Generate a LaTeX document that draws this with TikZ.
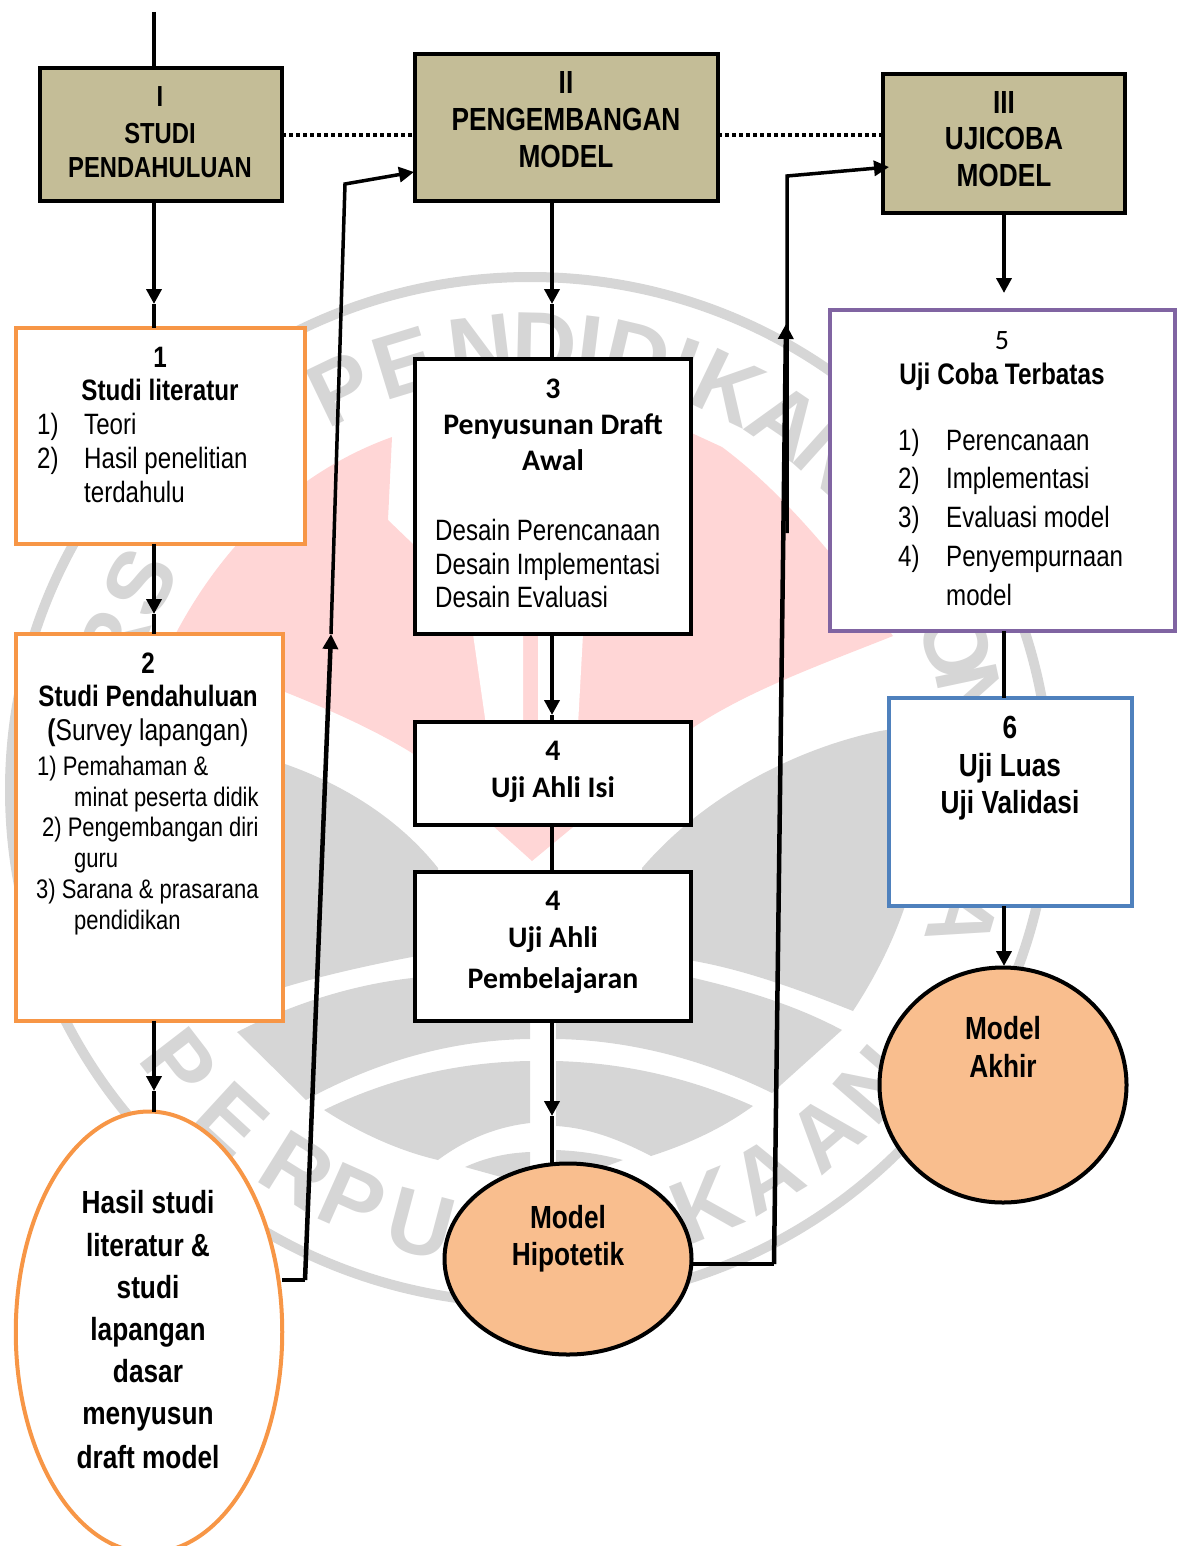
\documentclass[tikz,border=0pt]{standalone}
\usepackage{fontspec}
\setmainfont{Liberation Sans}
\newfontfamily\nrw[FakeStretch=.82]{Liberation Sans}
\newfontfamily\clb{Carlito}
\usetikzlibrary{arrows.meta,shapes.geometric}
\definecolor{krem}{HTML}{C4BD97}
\definecolor{oranye}{HTML}{F79646}
\definecolor{ungu}{HTML}{8064A2}
\definecolor{biru}{HTML}{4F81BD}
\definecolor{persik}{HTML}{F9BE8E}
\definecolor{wmabu}{HTML}{D6D6D6}
\definecolor{wmerah}{HTML}{FFD6D6}
\tikzset{
	kepala/.style={draw=black,fill=krem,line width=4.5pt,inner sep=0pt,outer sep=0pt},
	kotak/.style={draw=#1,fill=white,line width=4pt,inner sep=0pt,outer sep=0pt},
	bulat/.style={ellipse,draw=black,fill=persik,line width=4pt,inner sep=0pt,outer sep=0pt},
	tb/.style={font=\nrw\bfseries\fontsize{#1}{#1}\selectfont,inner sep=0pt,anchor=base},
	tr/.style={font=\nrw\fontsize{#1}{#1}\selectfont,inner sep=0pt,anchor=base west},
	tc/.style={font=\clb\bfseries\fontsize{#1}{#1}\selectfont,inner sep=0pt,anchor=base},
	wmhuruf/.style={font=\bfseries\fontsize{90}{90}\selectfont,text=wmabu,inner sep=0pt},
	garis/.style={line width=4.5pt,line cap=butt},
	panah/.style={garis,-{Triangle[width=15pt,length=15pt]}},
	panahs/.style={line width=3.5pt,-{Triangle[width=15pt,length=15pt]}},
	titik/.style={line width=4pt,dash pattern=on 3.5pt off 3.5pt}
}
\begin{document}
\begin{tikzpicture}[x=1pt,y=-1pt]
	\useasboundingbox (0,0) rectangle (1184,1546);
	% watermark
	\draw[wmabu,line width=10pt] (530,790) ellipse[x radius=520pt,y radius=513pt];
	\fill[wmerah] (392,437) .. controls (300,470) and (225,540) .. (175,635) -- (285,692)
		.. controls (330,710) and (375,730) .. (412,753) -- (532,861) -- (694,727)
		.. controls (750,690) and (820,665) .. (893,636)
		.. controls (840,560) and (780,490) .. (722,447) -- (620,400) -- (414,545) -- (388,520) -- cycle;
	\fill[white] (473,634) -- (523,634) -- (523,725) -- (486,725) -- cycle;
	\fill[white] (538,634) -- (583,634) -- (578,725) -- (538,725) -- cycle;
	\fill[wmabu] (230,730) -- (285,764) .. controls (345,785) and (400,820) .. (438,868) -- (438,952)
		-- (412,957) .. controls (370,965) and (325,975) .. (285,987) -- (230,987) -- cycle;
	\fill[wmabu] (642,868) .. controls (700,800) and (790,750) .. (880,731) -- (950,720) -- (905,906)
		.. controls (890,950) and (870,985) .. (853,1011) .. controls (800,990) and (745,970) .. (694,961) -- (642,950) -- cycle;
	\fill[wmabu] (237,1032) .. controls (290,1005) and (350,985) .. (412,978) -- (530,965) -- (530,1039)
		.. controls (445,1040) and (370,1065) .. (306,1100) -- cycle;
	\fill[wmabu] (556,965) -- (694,978) .. controls (745,990) and (795,1005) .. (842,1030) -- (772,1093)
		.. controls (705,1060) and (630,1040) .. (556,1039) -- cycle;
	\fill[wmabu] (324,1110) .. controls (385,1080) and (455,1062) .. (530,1061) -- (530,1123)
		.. controls (495,1127) and (465,1140) .. (438,1160) .. controls (395,1150) and (355,1130) .. (324,1110) -- cycle;
	\fill[wmabu] (556,1061) .. controls (630,1063) and (695,1080) .. (753,1106) .. controls (720,1130) and (685,1145) .. (651,1156)
		.. controls (620,1140) and (590,1128) .. (556,1126) -- cycle;
	\fill[wmabu] (465,1167) .. controls (485,1158) and (505,1153) .. (530,1152) -- (530,1185) -- cycle;
	\fill[wmabu] (556,1150) .. controls (580,1151) and (600,1154) .. (623,1160) -- (556,1185) -- cycle;
	\foreach \a/\c in {115.7/P,107/E,97/N,88.7/D,83/I,76.7/D,70.6/I,64.3/K,55.8/A,48/N,152.3/S,161/R,19.2/O,12/N,-16.5/A}{
		\node[wmhuruf,rotate=\a-90] (wa\a) at ({535+446*cos(\a)},{790-446*sin(\a)}) {\c};
	}
	\foreach \a/\c in {217.6/P,227.4/E,238/R,246/P,255.2/U,292.4/K,301/A,310.3/A,319/N}{
		\node[wmhuruf,rotate=\a+90] (wb\a) at ({535+449*cos(\a)},{790-449*sin(\a)}) {\c};
	}
	% kotak
	\node[kepala,minimum width=242pt,minimum height=133pt] (I) at (161,134.5) {};
	\node[kepala,minimum width=303pt,minimum height=147pt] (II) at (566.5,127.5) {};
	\node[kepala,minimum width=242pt,minimum height=139pt] (III) at (1004,143.5) {};
	\node[kotak=oranye,minimum width=289pt,minimum height=216pt] (b1) at (160,435.75) {};
	\node[kotak=oranye,minimum width=267pt,minimum height=387pt] (b2) at (149,827) {};
	\node[kotak=black,minimum width=276.5pt,minimum height=275pt] (b3) at (553,496) {};
	\node[kotak=black,minimum width=276.5pt,minimum height=103pt] (b4) at (553,773) {};
	\node[kotak=black,minimum width=276.5pt,minimum height=149pt] (b4p) at (553,946) {};
	\node[kotak=ungu,minimum width=345pt,minimum height=320.5pt] (b5) at (1002,470.5) {};
	\node[kotak=biru,minimum width=242.5pt,minimum height=207.5pt] (b6) at (1010.5,802) {};
	\node[kotak=oranye,ellipse,minimum width=266.5pt,minimum height=441pt] (hasil) at (149,1332) {};
	\node[bulat,minimum width=247pt,minimum height=191pt] (hipo) at (568,1259) {};
	\node[bulat,minimum width=247pt,minimum height=235pt] (akhir) at (1003,1085) {};
	% garis
	\coordinate (atas) at (154,12);
	\coordinate (m1) at (154,304);
	\coordinate (m2) at (154,614);
	\coordinate (m3) at (154,1091);
	\coordinate (m4) at (552,304);
	\coordinate (m5) at (552,715);
	\coordinate (m6) at (552,1116);
	\coordinate (m7) at (1004,293);
	\coordinate (m8) at (1004,966);
	\draw[garis] (atas) -- (atas |- I.north);
	\draw[panah] (m1 |- I.south) -- (m1);
	\draw[garis] (m1) -- (m1 |- b1.north);
	\draw[panah] (m2 |- b1.south) -- (m2);
	\draw[garis] (m2) -- (m2 |- b2.north);
	\draw[panah] (m3 |- b2.south) -- (m3);
	\draw[garis] (m3) -- (m3 |- hasil.north);
	\draw[panah] (m4 |- II.south) -- (m4);
	\draw[garis] (m4) -- (m4 |- b3.north);
	\draw[panah] (m5 |- b3.south) -- (m5);
	\draw[garis] (m5) -- (m5 |- b4.north);
	\draw[garis] (m5 |- b4.south) -- (m5 |- b4p.north);
	\draw[panah] (m6 |- b4p.south) -- (m6);
	\draw[garis] (m6) -- (m6 |- hipo.north);
	\draw[panah] (m7 |- III.south) -- (m7);
	\draw[garis] (m7 |- b5.south) -- (m7 |- b6.north);
	\draw[panah] (m8 |- b6.south) -- (m8);
	\coordinate (t1) at (283,135);
	\draw[titik] (t1 -| I.east) -- (t1 -| II.west);
	\draw[titik] (t1 -| II.east) -- (t1 -| III.west);
	% panah samping
	\coordinate (s1) at (305,1280);
	\coordinate (s2) at (331,634);
	\coordinate (s3) at (345,184);
	\coordinate (s4) at (414,172);
	\draw[line width=3.5pt] (hasil.east |- s1) -- (s1);
	\draw[panah] (s1) -- (s2);
	\draw[panahs] (s2) -- (s3) -- (s4);
	\coordinate (u1) at (774,1264);
	\coordinate (u2) at (786,324);
	\coordinate (u3) at (787,176);
	\coordinate (u4) at (889,167);
	\coordinate (u5) at (787,533);
	\draw[line width=3.5pt] (hipo.east |- u1) -- (u1);
	\draw[panah] (u1) -- (u2);
	\draw[panahs] (u5) -- (u3) -- (u4);
	% teks
	\node[tb=29] (ti1) at (160,107) {I};
	\node[tb=29] (ti2) at (160,144) {STUDI};
	\node[tb=29] (ti3) at (160,178) {PENDAHULUAN};
	\node[tb=32] (tii1) at (566,94) {II};
	\node[tb=32] (tii2) at (566,131) {PENGEMBANGAN};
	\node[tb=32] (tii3) at (566,168) {MODEL};
	\node[tb=32] (tiii1) at (1004,114) {III};
	\node[tb=32] (tiii2) at (1004,150) {UJICOBA};
	\node[tb=32] (tiii3) at (1004,187) {MODEL};
	\node[tb=29.5] (t1a) at (160,367) {1};
	\node[tb=29.5] (t1b) at (160,400) {Studi literatur};
	\foreach \n/\px/\py/\txt in {a/37/434/1),b/84/434/Teori,c/37/468/2),d/84/468/Hasil penelitian,e/84/502/terdahulu}{
		\node[tr=29.4] (t1\n) at (\px,\py) {\txt};
	}
	\node[tb=29.5] (t2a) at (148,673) {2};
	\node[tb=29.5] (t2b) at (148,706) {Studi Pendahuluan};
	\node[font=\nrw\fontsize{30}{30}\selectfont,inner sep=0pt,anchor=base] (t2c) at (148,740) {{\bfseries(}Survey lapangan)};
	\foreach \n/\px/\py/\txt in {d/37/775/1) Pemahaman \&,e/74/806/minat peserta didik,f/42/836/2) Pengembangan diri,g/74/867/guru,h/36/898/3) Sarana \& prasarana,i/74/929/pendidikan}{
		\node[tr=26.8] (t2\n) at (\px,\py) {\txt};
	}
	\node[tc=29.8] (t3a) at (553,398) {3};
	\node[tc=29.8] (t3b) at (553,434) {Penyusunan Draft};
	\node[tc=29.8] (t3c) at (553,470) {Awal};
	\foreach \n/\py/\txt in {d/540/Desain Perencanaan,e/574/Desain Implementasi,f/607/Desain Evaluasi}{
		\node[tr=29.4] (t3\n) at (435,\py) {\txt};
	}
	\node[tc=29.8] (t4a) at (553,760) {4};
	\node[tc=29.8] (t4b) at (553,797) {Uji Ahli Isi};
	\node[tc=29.8] (t4c) at (553,910) {4};
	\node[tc=29.8] (t4d) at (553,947) {Uji Ahli};
	\node[tc=29.8] (t4e) at (553,988) {Pembelajaran};
	\node[font=\clb\fontsize{28}{28}\selectfont,inner sep=0pt,anchor=base] (t5a) at (1002,349) {5};
	\node[tb=29.7] (t5b) at (1002,384) {Uji Coba Terbatas};
	\foreach \n/\px/\py/\txt in {c/898/450/1),d/946/450/Perencanaan,e/898/488/2),f/946/488/Implementasi,g/898/527/3),h/946/527/Evaluasi model,i/898/566/4),j/946/566/Penyempurnaan,k/946/605/model}{
		\node[tr=29.4] (t5\n) at (\px,\py) {\txt};
	}
	\node[tb=32] (t6a) at (1010,738) {6};
	\node[tb=32] (t6b) at (1010,776) {Uji Luas};
	\node[tb=32] (t6c) at (1010,813) {Uji Validasi};
	\node[tb=32] (th1) at (568,1228) {Model};
	\node[tb=32] (th2) at (568,1265) {Hipotetik};
	\node[tb=32] (ta1) at (1003,1039) {Model};
	\node[tb=32] (ta2) at (1003,1077) {Akhir};
	\foreach \n/\py/\txt in {a/1213/Hasil studi,b/1256/literatur \&,c/1298/studi,d/1340/lapangan,e/1382/dasar,f/1424/menyusun,g/1468/draft model}{
		\node[tb=32] (ts\n) at (148,\py) {\txt};
	}
\end{tikzpicture}
\end{document}
